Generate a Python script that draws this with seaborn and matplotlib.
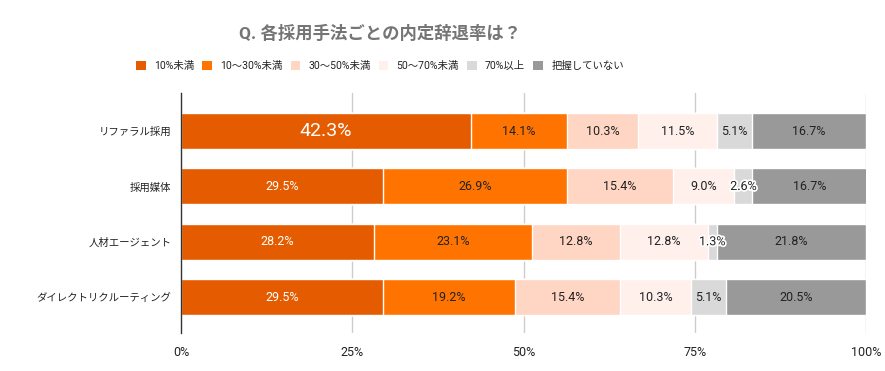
import matplotlib
matplotlib.use("Agg")
import matplotlib.pyplot as plt
import matplotlib.patheffects as pe
from matplotlib.patches import Patch
import numpy as np
import pandas as pd
import seaborn as sns

categories = ["リファラル採用", "採用媒体", "人材エージェント", "ダイレクトリクルーティング"]
series_names = ["10%未満", "10～30%未満", "30～50%未満", "50～70%未満", "70%以上", "把握していない"]
v_lt10 = [42.3, 29.5, 28.2, 29.5]
v_10_30 = [14.1, 26.9, 23.1, 19.2]
v_30_50 = [10.3, 15.4, 12.8, 15.4]
v_50_70 = [11.5, 9.0, 12.8, 10.3]
v_ge70 = [5.1, 2.6, 1.3, 5.1]
v_unknown = [16.7, 16.7, 21.8, 20.5]
xticks = [0, 25, 50, 75, 100]
xtick_labels = ["0%", "25%", "50%", "75%", "100%"]
title = "Q. 各採用手法ごとの内定辞退率は？"

colors = ["#E55C00", "#FF7400", "#FFD5C3", "#FFF0EC", "#D9D9D9", "#999999"]

sns.set_style("white")
plt.rcParams["font.family"] = ["Roboto", "Noto Sans CJK JP", "DejaVu Sans"]

series = [v_lt10, v_10_30, v_30_50, v_50_70, v_ge70, v_unknown]
vals = np.array(series)  # shape (6, 4)
cum = np.cumsum(vals, axis=0)

fig = plt.figure(figsize=(8.85, 3.71), dpi=100)
ax = fig.add_axes([181/885, 1-333/371, (866-181)/885, (333-93)/371])

for xv in xticks[1:]:
    ax.axvline(xv, color="#CCCCCC", lw=1, zorder=0)

for k in range(len(series) - 1, -1, -1):
    df = pd.DataFrame({"cat": categories, "val": cum[k]})
    sns.barplot(data=df, y="cat", x="val", order=categories, orient="h",
                color=colors[k], saturation=1, width=0.65, edgecolor="white",
                linewidth=1, ax=ax, zorder=2)

for i in range(len(categories)):
    for k in range(len(series)):
        v = vals[k, i]
        center = cum[k, i] - v / 2
        if k == 0:
            col = "white"
            fs = 14 if v > 40 else 9
        else:
            col = "#222222"
            fs = 9
        t = ax.text(center, i, f"{v:.1f}%", ha="center", va="center",
                    color=col, fontsize=fs, zorder=5)
        if v < 3:
            t.set_path_effects([pe.withStroke(linewidth=2.5, foreground="white")])

ax.set_xlim(0, 100)
ax.set_ylim(3.65, -0.69)
ax.set_xticks(xticks)
ax.set_xticklabels(xtick_labels)
ax.set_xlabel("")
ax.set_ylabel("")
ax.tick_params(axis="x", length=0, labelsize=9, labelcolor="#222222", pad=9)
ax.tick_params(axis="y", length=0, labelsize=7.5, labelcolor="#222222", pad=7)
for s in ["top", "right", "bottom"]:
    ax.spines[s].set_visible(False)
ax.spines["left"].set_color("#333333")
ax.spines["left"].set_linewidth(1)
ax.spines["left"].set_zorder(6)

fig.text(380/885, 1-33/371, title, ha="center", va="center", fontsize=12.5,
         fontweight="bold", color="#757575")

handles = [Patch(facecolor=c, edgecolor="none") for c in colors]
fig.legend(handles, series_names, loc="center", bbox_to_anchor=(380/885, 1-66/371),
           ncol=6, frameon=False, fontsize=7.5, handlelength=0.9, handleheight=0.9,
           handletextpad=0.8, columnspacing=0.8, labelcolor="#222222")

fig.savefig("out.png", dpi=100)
